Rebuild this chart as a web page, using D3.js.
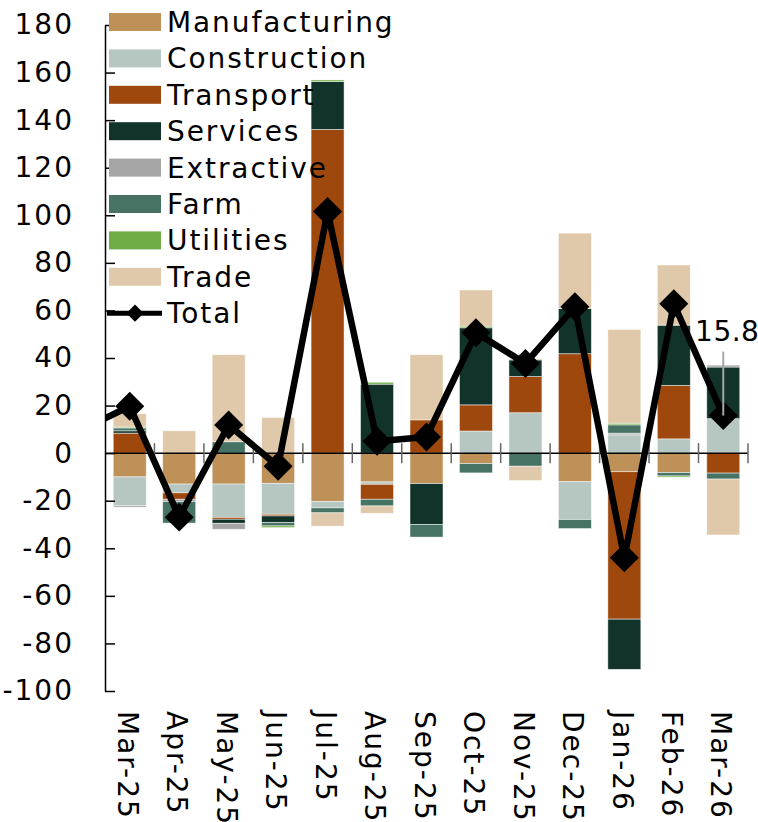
<!DOCTYPE html>
<html>
<head>
<meta charset="utf-8">
<script src="https://cdn.jsdelivr.net/npm/d3@7"></script>
<style>
  body { margin: 0; background: #fff; }
  svg text { font-family: "DejaVu Sans", sans-serif; fill: #000; }
</style>
</head>
<body>
<div id="chart"></div>
<script>
const width = 758;
const height = 822;

// months on the x axis
const months = ["Mar-25", "Apr-25", "May-25", "Jun-25", "Jul-25", "Aug-25", "Sep-25",
                "Oct-25", "Nov-25", "Dec-25", "Jan-26", "Feb-26", "Mar-26"];

// sector contributions
const manufacturing = [-10, -13, -13, -12.7, -20.3, -12.1, -12.8, -4.4, 0, -12, -7.8, -8.2, 0];
const construction  = [-12, -3.7, -14, -13, -2.7, -1, 0, 9.3, 17, -15.9, 7.7, 6, 14.5];
const transport     = [8.4, -2.7, -0.8, -0.7, 136.1, -6.3, 14, 11, 15.2, 41.8, -62, 22.5, -8.4];
const services      = [1, 0, -1.7, -2.8, 20.1, 29, -17.2, 32.4, 7, 19, -21.1, 25.3, 21.7];
const extractive    = [-0.7, -1, -2.5, 0, 0, 0, 0, 0, 0, 0, 0.7, 0, 0.8];
const farm          = [1.2, -9, 4.8, -1.4, -2.1, -2.8, -5.3, -3.9, -5.5, -3.8, 3.5, -1.4, -2.5];
const utilities     = [0.4, 0, 0, -0.7, 0.7, 0.8, 0, 0.7, 0.3, 0, 0.7, -0.5, 0];
const trade         = [5.6, 9.4, 36.6, 15, -5.6, -3.1, 27.4, 15.2, -6, 31.7, 39.4, 25.3, -23.5];

// total line, plus the month before the first one (its segment is clipped)
const priorTotal = 9.5;
const total = [19.7, -26.9, 11.8, -5.5, 101.6, 5, 6.8, 50.6, 37.7, 61.5, -44, 62.8, 15.8];

const yTicks = [180, 160, 140, 120, 100, 80, 60, 40, 20, 0, -20, -40, -60, -80, -100];

const series = [
  { key: "Manufacturing", values: manufacturing, color: "#bd9157" },
  { key: "Construction",  values: construction,  color: "#b5c7c0" },
  { key: "Transport",     values: transport,     color: "#9e480e" },
  { key: "Services",      values: services,      color: "#12332a" },
  { key: "Extractive",    values: extractive,    color: "#a5a5a5" },
  { key: "Farm",          values: farm,          color: "#467363" },
  { key: "Utilities",     values: utilities,     color: "#70ad47" },
  { key: "Trade",         values: trade,         color: "#e0c9aa" }
];

const rows = months.map((m, i) => {
  const r = { month: m };
  series.forEach(s => { r[s.key] = s.values[i]; });
  return r;
});

const stacked = d3.stack()
  .keys(series.map(s => s.key))
  .offset(d3.stackOffsetDiverging)(rows);

const x = d3.scaleBand()
  .domain(months)
  .range([105, 748])
  .paddingInner(0.333)
  .paddingOuter(0.1667);

const y = d3.scaleLinear()
  .domain([-100, 180])
  .range([691, 25]);

const svg = d3.select("#chart")
  .append("svg")
  .attr("width", width)
  .attr("height", height);

// bars
svg.append("g")
  .selectAll("g")
  .data(stacked)
  .join("g")
  .attr("fill", (d, i) => series[i].color)
  .selectAll("rect")
  .data(d => d)
  .join("rect")
  .attr("x", d => x(d.data.month))
  .attr("width", x.bandwidth())
  .attr("y", d => y(Math.max(d[0], d[1])))
  .attr("height", d => Math.abs(y(d[0]) - y(d[1])))
  .attr("stroke", "#fff")
  .attr("stroke-opacity", 0.6)
  .attr("stroke-width", 0.8);

// y axis, inside ticks
const yAxis = d3.axisLeft(y)
  .tickValues(yTicks)
  .tickSizeInner(-10)
  .tickSizeOuter(0)
  .tickPadding(31)
  .tickFormat(d => String(d));

const yg = svg.append("g")
  .attr("transform", "translate(105,0)")
  .call(yAxis);
yg.select(".domain").attr("stroke", "#000").attr("stroke-width", 1.5);
yg.selectAll(".tick line").attr("stroke", "#000").attr("stroke-width", 1.5);
yg.selectAll(".tick text")
  .style("font-size", "28px")
  .style("letter-spacing", "2px")
  .style("font-family", "DejaVu Sans, sans-serif")
  .attr("fill", "#000");

// x axis at zero, crossing ticks on category boundaries
const zeroY = y(0);
svg.append("line")
  .attr("x1", 105).attr("x2", 748)
  .attr("y1", zeroY).attr("y2", zeroY)
  .attr("stroke", "#000").attr("stroke-width", 1.5);

const step = x.step();
svg.append("g")
  .selectAll("line")
  .data(months)
  .join("line")
  .attr("x1", d => x(d) - x.paddingOuter() * step + step)
  .attr("x2", d => x(d) - x.paddingOuter() * step + step)
  .attr("y1", zeroY - 10)
  .attr("y2", zeroY + 10)
  .attr("stroke", "#666")
  .attr("stroke-width", 1.5);

// month labels, rotated
svg.append("g")
  .selectAll("text")
  .data(months)
  .join("text")
  .attr("transform", d => `translate(${x(d) + x.bandwidth() / 2 - 2},711) rotate(90)`)
  .attr("dy", "0.35em")
  .style("font-size", "28px")
  .style("letter-spacing", "2px")
  .text(d => d);

// total line
const pts = [{ x: x(months[0]) + x.bandwidth() / 2 - step, v: priorTotal }]
  .concat(months.map((m, i) => ({ x: x(m) + x.bandwidth() / 2, v: total[i] })));

svg.append("clipPath")
  .attr("id", "plotClip")
  .append("rect")
  .attr("x", 105).attr("y", 0)
  .attr("width", width - 105).attr("height", height);

svg.append("path")
  .datum(pts)
  .attr("clip-path", "url(#plotClip)")
  .attr("fill", "none")
  .attr("stroke", "#000")
  .attr("stroke-width", 6.5)
  .attr("stroke-linejoin", "round")
  .attr("d", d3.line().x(d => d.x).y(d => y(d.v)));

const diamond = d3.symbol().type(d3.symbolSquare).size(420);
svg.append("g")
  .selectAll("path")
  .data(pts.slice(1))
  .join("path")
  .attr("transform", d => `translate(${d.x},${y(d.v)}) rotate(45)`)
  .attr("d", diamond)
  .attr("fill", "#000");

// data label for the last point
const last = pts[pts.length - 1];
svg.append("line")
  .attr("x1", last.x).attr("x2", last.x)
  .attr("y1", y(last.v) - 64).attr("y2", y(last.v))
  .attr("stroke", "#a6a6a6").attr("stroke-width", 2);
svg.append("text")
  .attr("x", last.x + 4)
  .attr("y", y(last.v) - 75)
  .attr("text-anchor", "middle")
  .style("font-size", "28px")
  .style("letter-spacing", "0.5px")
  .text(d3.format(".1f")(last.v));

// legend
const legend = svg.append("g");
const rowH = 36.4;
series.forEach((s, i) => {
  const cy = 22 + i * rowH;
  legend.append("rect")
    .attr("x", 109).attr("y", cy - 9)
    .attr("width", 52).attr("height", 18)
    .attr("fill", s.color);
  legend.append("text")
    .attr("x", 167).attr("y", cy)
    .attr("dy", "0.36em")
    .style("font-size", "28px")
    .style("letter-spacing", "1.9px")
    .text(s.key);
});
const ty = 22 + series.length * rowH;
legend.append("line")
  .attr("x1", 107).attr("x2", 162)
  .attr("y1", ty).attr("y2", ty)
  .attr("stroke", "#000").attr("stroke-width", 5);
legend.append("path")
  .attr("transform", `translate(135,${ty}) rotate(45)`)
  .attr("d", d3.symbol().type(d3.symbolSquare).size(150))
  .attr("fill", "#000");
legend.append("text")
  .attr("x", 167).attr("y", ty)
  .attr("dy", "0.36em")
  .style("font-size", "28px")
  .style("letter-spacing", "1.9px")
  .text("Total");
</script>
</body>
</html>
